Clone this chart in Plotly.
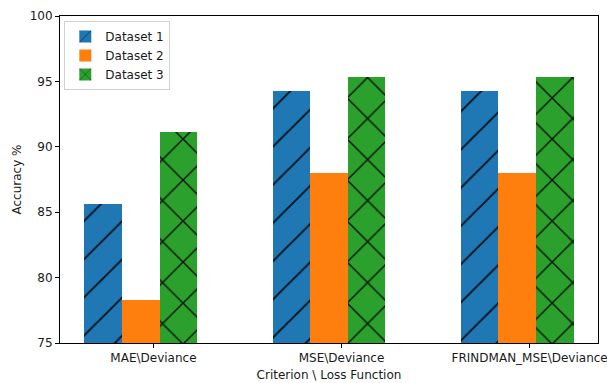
import plotly.graph_objects as go

# Accuracy (%) per criterion / loss-function combination
categories = ["MAE\\Deviance", "MSE\\Deviance", "FRINDMAN_MSE\\Deviance"]
dataset_1 = [85.6, 94.3, 94.3]
dataset_2 = [78.3, 88.0, 88.0]
dataset_3 = [91.1, 95.3, 95.3]
series_names = ["Dataset 1", "Dataset 2", "Dataset 3"]
y_ticks = [75, 80, 85, 90, 95, 100]

bar_w = 0.2
idx = list(range(len(categories)))

colors = ["#1f77b4", "#ff7f0e", "#2ca02c"]
patterns = [dict(shape="/", size=27, solidity=0.07, fgcolor="black", fgopacity=0.85),
            dict(shape=""),
            dict(shape="x", size=29, solidity=0.1, fgcolor="black", fgopacity=0.85)]
offsets = [-bar_w, 0.0, bar_w]

fig = go.Figure()
for name, vals, col, pat, off in zip(series_names, [dataset_1, dataset_2, dataset_3],
                                     colors, patterns, offsets):
    fig.add_trace(go.Bar(
        x=[i + off for i in idx], y=vals, width=bar_w, name=name,
        marker=dict(color=col, line=dict(width=0), pattern=pat),
    ))

txt = dict(family="DejaVu Sans", size=12, color="#1a1a1a")
fig.update_layout(
    width=607, height=383,
    margin=dict(l=60, r=9, t=16, b=40),
    paper_bgcolor="white", plot_bgcolor="white",
    barmode="overlay", bargap=0,
    font=txt,
    showlegend=True,
    legend=dict(x=0.008, y=0.985, xanchor="left", yanchor="top",
                bgcolor="rgba(255,255,255,0.8)", bordercolor="#d0d0d0", borderwidth=1,
                font=txt, itemwidth=30, tracegroupgap=0),
    xaxis=dict(range=[-0.43, 2.43], tickvals=[i + bar_w / 3 for i in idx], ticktext=categories,
               automargin=False, ticklabeloverflow="allow",
               showline=True, mirror=True, linecolor="black", linewidth=1,
               ticks="outside", ticklen=4, tickcolor="black", showgrid=False, zeroline=False,
               title=dict(text="Criterion \\ Loss Function", standoff=6, font=txt)),
    yaxis=dict(range=[75, 100], tickvals=y_ticks, automargin=False,
               showline=True, mirror=True, linecolor="black", linewidth=1,
               ticks="outside", ticklen=4, tickcolor="black", showgrid=False, zeroline=False,
               title=dict(text="Accuracy %", standoff=5, font=txt)),
)

fig.write_html("out.html")
